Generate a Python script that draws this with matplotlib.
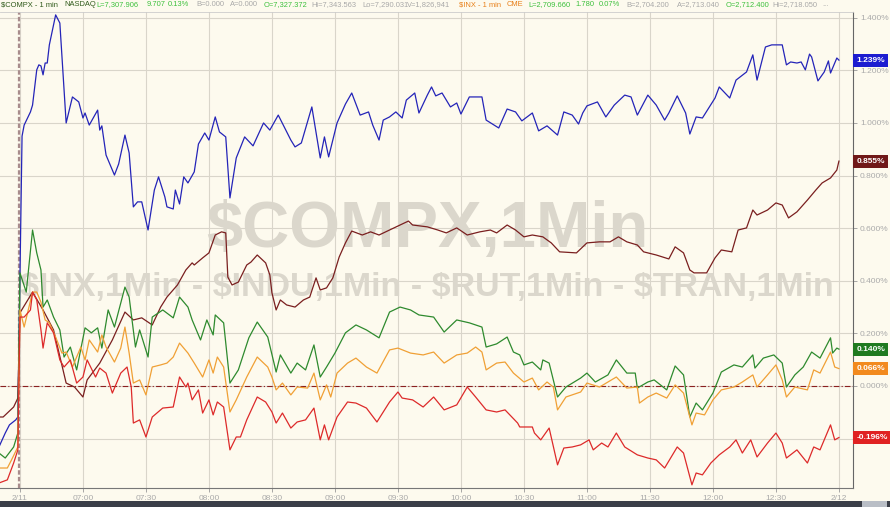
import matplotlib.pyplot as plt
from matplotlib.patches import Rectangle

plt.rcParams['font.family'] = ['Liberation Sans', 'DejaVu Sans']

# minutes after 06:30 (2/11), percent change
compx = [(-10, -0.232), (-7, -0.179), (-5, -0.148), (-2, -0.129), (-1, -0.118), (1, 0.95),
         (2, 0.992), (5, 1.042), (6, 1.068), (8, 1.202), (9, 1.221), (10, 1.217), (11, 1.183),
         (12, 1.228), (13, 1.228), (14, 1.297), (15, 1.335), (17, 1.411), (19, 1.380), (22, 1.000),
         (25, 1.099), (28, 1.080), (30, 1.019), (31, 1.038), (33, 0.992), (37, 1.049), (38, 0.973),
         (39, 0.989), (41, 0.878), (45, 0.802), (47, 0.844), (50, 0.954), (52, 0.886), (54, 0.681),
         (56, 0.700), (58, 0.700), (61, 0.593), (64, 0.745), (66, 0.795), (69, 0.719), (70, 0.681),
         (73, 0.673), (74, 0.745), (76, 0.692), (78, 0.795), (80, 0.772), (83, 0.814), (85, 0.920),
         (88, 0.962), (90, 0.935), (93, 1.023), (95, 0.966), (98, 0.947), (100, 0.715), (103, 0.867),
         (107, 0.947), (111, 0.913), (116, 1.000), (119, 0.973), (123, 1.030), (129, 0.935),
         (131, 0.909), (134, 0.924), (139, 1.061), (143, 0.867), (145, 0.947), (147, 0.871),
         (151, 1.000), (155, 1.072), (158, 1.114), (162, 1.030), (166, 1.042), (168, 0.992),
         (171, 0.935), (173, 1.011), (176, 1.023), (179, 1.042), (182, 1.019), (184, 1.087),
         (188, 1.114), (190, 1.038), (194, 1.106), (196, 1.137), (198, 1.103), (201, 1.114),
         (205, 1.061), (208, 1.076), (210, 1.034), (214, 1.099), (218, 1.099), (220, 1.099),
         (222, 1.011), (228, 0.981), (232, 1.053), (236, 1.042), (239, 1.008), (244, 1.038),
         (247, 0.970), (251, 0.989), (256, 0.954), (259, 1.042), (263, 1.030), (266, 0.996),
         (268, 1.038), (270, 1.065), (275, 1.080), (279, 1.023), (283, 1.068), (288, 1.106),
         (291, 1.099), (294, 1.030), (299, 1.106), (303, 1.068), (307, 1.011), (309, 1.038),
         (313, 1.103), (317, 1.038), (319, 0.958), (322, 1.023), (325, 1.019), (331, 1.095),
         (333, 1.137), (338, 1.095), (341, 1.163), (346, 1.194), (349, 1.259), (351, 1.163),
         (355, 1.289), (358, 1.297), (363, 1.297), (365, 1.221), (367, 1.232), (370, 1.228),
         (372, 1.232), (374, 1.202), (376, 1.262), (377, 1.251), (380, 1.160), (383, 1.194),
         (385, 1.236), (386, 1.190), (389, 1.247), (390, 1.239)]

tran = [(-10, -0.118), (-8, -0.118), (-3, -0.080), (-1, -0.046), (0, 0.278), (6, 0.357),
        (11, 0.289), (16, 0.213), (22, 0.011), (26, -0.004), (30, -0.042), (32, 0.023), (38, 0.087),
        (44, 0.175), (50, 0.281), (54, 0.251), (58, 0.259), (63, 0.232), (67, 0.300), (70, 0.338),
        (75, 0.384), (79, 0.441), (82, 0.468), (83, 0.460), (87, 0.487), (90, 0.506), (93, 0.574),
        (96, 0.586), (98, 0.582), (99, 0.414), (101, 0.384), (104, 0.395), (108, 0.460),
        (110, 0.471), (113, 0.498), (117, 0.468), (119, 0.422), (120, 0.354), (122, 0.289),
        (124, 0.327), (127, 0.308), (131, 0.300), (135, 0.327), (138, 0.338), (141, 0.411),
        (143, 0.365), (146, 0.373), (149, 0.411), (152, 0.490), (155, 0.544), (158, 0.589),
        (163, 0.574), (167, 0.586), (171, 0.574), (176, 0.593), (181, 0.612), (185, 0.627),
        (187, 0.612), (194, 0.605), (199, 0.593), (203, 0.582), (208, 0.601), (213, 0.574),
        (219, 0.586), (224, 0.593), (227, 0.582), (232, 0.612), (236, 0.593), (240, 0.567),
        (244, 0.574), (249, 0.567), (253, 0.544), (257, 0.510), (265, 0.506), (270, 0.544),
        (276, 0.548), (281, 0.548), (285, 0.567), (289, 0.548), (294, 0.536), (297, 0.510),
        (303, 0.498), (309, 0.483), (312, 0.529), (316, 0.506), (319, 0.441), (321, 0.430),
        (327, 0.430), (331, 0.487), (334, 0.517), (339, 0.510), (342, 0.593), (346, 0.601),
        (349, 0.669), (351, 0.650), (356, 0.669), (360, 0.696), (363, 0.688), (366, 0.639),
        (370, 0.662), (375, 0.707), (379, 0.745), (382, 0.772), (386, 0.791), (389, 0.821),
        (390, 0.855)]

rut = [(-10, -0.255), (-7, -0.274), (-3, -0.232), (-1, -0.179), (0, 0.430), (3, 0.357),
       (6, 0.593), (8, 0.506), (10, 0.441), (11, 0.300), (13, 0.327), (16, 0.262), (19, 0.213),
       (21, 0.110), (24, 0.148), (27, 0.061), (31, 0.221), (34, 0.202), (37, 0.221), (39, 0.144),
       (42, 0.289), (45, 0.224), (50, 0.376), (52, 0.338), (55, 0.148), (57, 0.213), (61, 0.110),
       (63, 0.262), (68, 0.289), (73, 0.259), (76, 0.338), (80, 0.300), (82, 0.251), (86, 0.175),
       (89, 0.251), (92, 0.194), (93, 0.270), (97, 0.240), (100, 0.011), (104, 0.061),
       (109, 0.183), (113, 0.243), (118, 0.186), (122, 0.053), (124, 0.118), (129, 0.049),
       (132, 0.087), (136, 0.061), (140, 0.156), (143, 0.034), (146, 0.072), (150, 0.125),
       (155, 0.202), (160, 0.232), (165, 0.213), (171, 0.183), (176, 0.281), (181, 0.300),
       (186, 0.289), (190, 0.270), (197, 0.262), (202, 0.205), (208, 0.251), (214, 0.240),
       (220, 0.224), (222, 0.148), (227, 0.160), (232, 0.186), (235, 0.129), (238, 0.118),
       (240, 0.080), (244, 0.091), (248, 0.061), (249, 0.099), (252, 0.087), (256, -0.042),
       (260, -0.004), (267, 0.030), (270, 0.049), (274, 0.015), (280, 0.042), (284, 0.099),
       (289, 0.049), (293, 0.049), (294, -0.008), (299, 0.015), (302, 0.023), (308, -0.015),
       (312, 0.076), (316, 0.042), (319, -0.118), (322, -0.065), (325, -0.091), (330, -0.027),
       (334, 0.053), (340, 0.080), (344, 0.072), (349, 0.118), (350, 0.068), (354, 0.106),
       (359, 0.118), (363, 0.087), (365, -0.004), (369, 0.042), (373, 0.072), (377, 0.129),
       (381, 0.106), (386, 0.183), (387, 0.125), (389, 0.144), (390, 0.140)]

inx = [(-10, -0.312), (-6, -0.312), (-4, -0.281), (-1, -0.232), (0, 0.289), (2, 0.224),
       (6, 0.357), (8, 0.357), (10, 0.319), (12, 0.251), (14, 0.240), (17, 0.186), (20, 0.125),
       (22, 0.129), (25, 0.072), (29, 0.148), (31, 0.099), (33, 0.175), (37, 0.129), (39, 0.194),
       (41, 0.148), (45, 0.091), (48, 0.144), (50, 0.224), (52, 0.125), (54, 0.011), (57, 0.023),
       (60, -0.034), (63, 0.072), (67, 0.080), (70, 0.087), (73, 0.110), (76, 0.163), (80, 0.125),
       (83, 0.087), (87, 0.034), (90, 0.099), (92, 0.049), (94, 0.110), (97, 0.072), (100, -0.099),
       (103, -0.053), (108, 0.034), (113, 0.110), (118, 0.072), (120, 0.034), (122, -0.015),
       (125, 0.011), (129, -0.034), (132, -0.004), (137, -0.008), (140, 0.049), (143, -0.053),
       (146, 0.004), (148, -0.042), (151, 0.049), (156, 0.087), (160, 0.106), (165, 0.072),
       (170, 0.049), (176, 0.137), (180, 0.144), (186, 0.125), (192, 0.118), (197, 0.129),
       (202, 0.087), (208, 0.118), (213, 0.125), (217, 0.148), (220, 0.129), (222, 0.061),
       (227, 0.087), (231, 0.091), (235, 0.049), (240, 0.015), (244, 0.030), (247, -0.015),
       (251, 0.015), (254, -0.004), (256, -0.091), (260, -0.042), (267, -0.023), (270, 0.011),
       (276, -0.004), (284, 0.034), (289, -0.008), (294, -0.004), (295, -0.065), (299, -0.042),
       (303, -0.027), (308, -0.046), (312, 0.004), (316, -0.027), (320, -0.148), (322, -0.103),
       (326, -0.110), (330, -0.053), (334, -0.015), (340, -0.004), (344, 0.015), (349, 0.042),
       (351, -0.004), (356, 0.042), (360, 0.080), (363, 0.023), (365, -0.042), (369, -0.004),
       (375, -0.015), (378, 0.061), (381, 0.049), (386, 0.129), (388, 0.072), (390, 0.066)]

indu = [(-10, -0.369), (-6, -0.357), (-3, -0.293), (-1, -0.243), (0, 0.262), (2, 0.262),
        (5, 0.289), (6, 0.357), (8, 0.327), (10, 0.213), (11, 0.144), (13, 0.240), (16, 0.202),
        (19, 0.099), (21, 0.072), (24, 0.099), (27, 0.011), (30, 0.034), (32, 0.099), (36, 0.034),
        (38, 0.068), (41, 0.049), (44, -0.027), (48, 0.049), (51, 0.072), (53, -0.004),
        (54, -0.141), (57, -0.129), (60, -0.194), (63, -0.118), (68, -0.084), (73, -0.080),
        (76, 0.034), (79, -0.004), (80, 0.011), (82, -0.053), (85, -0.015), (87, -0.103),
        (90, -0.053), (92, -0.110), (94, -0.061), (97, -0.080), (100, -0.243), (103, -0.194),
        (105, -0.194), (108, -0.129), (113, -0.042), (117, -0.061), (120, -0.099), (122, -0.141),
        (125, -0.103), (129, -0.160), (132, -0.137), (136, -0.129), (140, -0.084), (143, -0.205),
        (145, -0.148), (147, -0.205), (151, -0.118), (156, -0.061), (160, -0.065), (165, -0.084),
        (170, -0.137), (176, -0.061), (180, -0.023), (182, -0.046), (187, -0.053), (192, -0.080),
        (197, -0.042), (202, -0.091), (208, -0.072), (213, -0.004), (217, -0.042), (222, -0.091),
        (227, -0.099), (231, -0.091), (237, -0.141), (238, -0.156), (244, -0.156), (245, -0.179),
        (248, -0.205), (252, -0.160), (256, -0.300), (259, -0.236), (263, -0.232), (267, -0.224),
        (271, -0.205), (273, -0.243), (277, -0.217), (280, -0.232), (284, -0.179), (288, -0.232),
        (294, -0.262), (299, -0.274), (303, -0.281), (307, -0.312), (313, -0.232), (316, -0.255),
        (320, -0.376), (322, -0.331), (325, -0.338), (329, -0.293), (333, -0.262), (338, -0.232),
        (341, -0.205), (344, -0.255), (348, -0.205), (351, -0.270), (356, -0.217), (360, -0.179),
        (363, -0.217), (365, -0.274), (370, -0.243), (375, -0.293), (378, -0.232), (381, -0.243),
        (386, -0.148), (388, -0.205), (390, -0.196)]

series = [compx, tran, rut, inx, indu]
line_colors = ['#2424b8', '#7a1f1f', '#2e8a2e', '#f0a035', '#dd2a2a']
box_colors = ['#1c1cd0', '#701818', '#1f7a1f', '#f28a1e', '#e02222']

xtick_pos = [0, 30, 60, 90, 120, 150, 180, 210, 240, 270, 300, 330, 360, 390]
xtick_lab = ['2/11', '07:00', '07:30', '08:00', '08:30', '09:00', '09:30', '10:00',
             '10:30', '11:00', '11:30', '12:00', '12:30', '2/12']
ytick_pos = [-0.2, 0.0, 0.2, 0.4, 0.6, 0.8, 1.0, 1.2, 1.4]

bg = '#fdfaee'
fig = plt.figure(figsize=(8.9, 5.07), dpi=100)
fig.patch.set_facecolor(bg)
ax = fig.add_axes([0, 19 / 507, 853 / 890, 476 / 507])
ax.set_facecolor(bg)

ax.set_xlim(-9.5, 396.7)
ax.set_ylim(-0.388, 1.422)

# watermarks
ax.text(194, 0.593, r'\$COMPX,1Min', fontsize=47, fontweight='bold', color='#dbd7cc',
        ha='center', va='center', zorder=1)
ax.text(194, 0.373, r'\$INX,1Min - \$INDU,1Min - \$RUT,1Min - \$TRAN,1Min', fontsize=24.5,
        fontweight='bold', color='#dbd7cc', ha='center', va='center', zorder=1)

ax.axhline(0, color='#8b2020', lw=0.8, ls=(0, (5, 2, 1, 2)), zorder=2)
ax.axvline(-0.3, color='#a88c8c', lw=1.6, ls=(0, (2, 1)), zorder=2)

for s, c in zip(series, line_colors):
    t = [p[0] for p in s]
    v = [p[1] for p in s]
    ax.plot(t, v, color=c, lw=0.9, zorder=3)

for s, c in zip(series, box_colors):
    last = s[-1][1]
    ax.text(1.004, last, f'{last:.3f}%', transform=ax.get_yaxis_transform(), fontsize=6,
            fontweight='bold', color='white', ha='left', va='center', zorder=5,
            bbox=dict(boxstyle='square,pad=0.35', fc=c, ec='none'), clip_on=False)

ax.set_xticks(xtick_pos)
ax.set_xticklabels(xtick_lab)
ax.set_yticks(ytick_pos)
ax.set_yticklabels(['' if p < 0 else f'{p:.3f}%' for p in ytick_pos])
ax.yaxis.tick_right()
ax.tick_params(axis='both', labelsize=6, labelcolor='#aaaaaa', color='#999999', length=3,
               width=0.6, pad=2)
ax.grid(True, color='#d9d5ca', lw=0.8, zorder=0)
ax.set_axisbelow(True)

ax.spines['left'].set_visible(False)
ax.spines['right'].set_color('#666666')
ax.spines['bottom'].set_color('#777777')
ax.spines['top'].set_color('#cccccc')
ax.spines['top'].set_linewidth(0.6)

# header line
hy = 1 - 5 / 507
header = [(1, r'\$COMPX - 1 min', '#2f5a1a'), (64, 'NASDAQ', '#2f5a1a'),
          (96, 'L=7,307.906', '#3cc03c'), (147, '9.707', '#3cc03c'), (168, '0.13%', '#3cc03c'),
          (196, 'B=0.000', '#a8a8a8'), (230, 'A=0.000', '#a8a8a8'),
          (264, 'O=7,327.372', '#3cc03c'), (311, 'Hi=7,343.563', '#a8a8a8'),
          (362, 'Lo=7,290.031', '#a8a8a8'), (407, 'V=1,826,941', '#a8a8a8'),
          (459, r'\$INX - 1 min', '#e8801a'), (507, 'CME', '#e8801a'),
          (528, 'L=2,709.660', '#3cc03c'), (575, '1.780', '#3cc03c'), (599, '0.07%', '#3cc03c'),
          (626, 'B=2,704.200', '#a8a8a8'), (677, 'A=2,713.040', '#a8a8a8'),
          (726, 'O=2,712.400', '#3cc03c'), (772, 'Hi=2,718.050', '#a8a8a8'),
          (822, '...', '#a8a8a8')]
for x, txt, c in header:
    fig.text(x / 890, hy, txt, fontsize=5.4, color=c, ha='left', va='center')

# bottom bar
fig.add_artist(Rectangle((0, 0), 1, 6 / 507, transform=fig.transFigure, fc='#3b3f48', ec='none'))
fig.add_artist(Rectangle((862 / 890, 0), 25 / 890, 6 / 507, transform=fig.transFigure,
                         fc='#b9bec6', ec='none'))

fig.savefig('out.png', dpi=100, facecolor=bg)
